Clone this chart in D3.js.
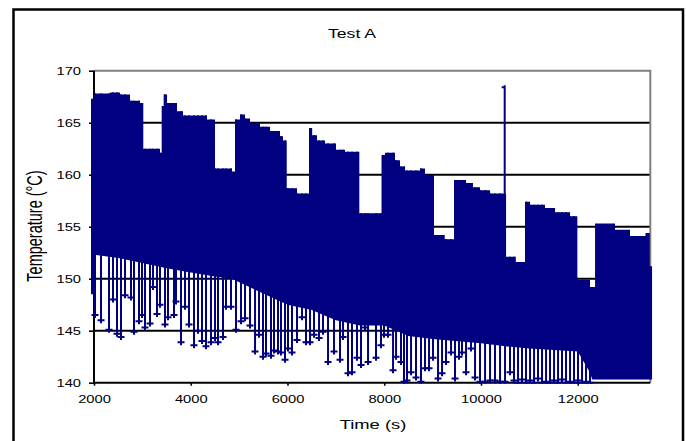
<!DOCTYPE html>
<html><head><meta charset="utf-8">
<script src="https://cdn.jsdelivr.net/npm/d3@7"></script>
<style>html,body{margin:0;padding:0;background:#fff;overflow:hidden}</style>
</head><body><svg id="c" width="686" height="441"></svg>
<script>
const chartTitle = "Test A";
const xTitle = "Time (s)";
const yTitle = "Temperature (°C)";
const xTicks = [2000, 4000, 6000, 8000, 10000, 12000];
const yTicks = [140, 145, 150, 155, 160, 165, 170];

// upper envelope of the oscillating trace (step starts, °C)
const stepTime = [1938,2021,2331,2538,2744,2951,3019,3364,3399,3440,3510,3716,3840,4336,4502,4853,4915,5018,5122,5225,5432,5639,5845,5907,5984,6197,6451,6510,6610,6776,7003,7189,7485,7944,8016,8223,8326,8430,8740,8843,9015,9250,9463,9691,9835,9980,10187,10518,10720,10911,11014,11324,11531,11841,11992,12254,12358,12771,13081,13400,13490,13540];
const stepTemp = [167.3,167.8,167.9,167.7,167.1,166.9,162.5,162.1,166.6,167.7,166.9,166.1,165.7,165.3,160.6,160.3,165.3,165.8,165.4,165.0,164.6,164.2,163.7,163.3,158.7,158.2,164.5,163.8,163.3,163.0,162.4,162.2,156.3,161.9,162.1,161.4,160.8,160.4,160.6,160.0,154.2,153.8,159.5,159.2,158.8,158.5,158.2,152.1,151.6,157.4,157.1,156.8,156.4,156.0,149.9,149.2,155.3,154.7,154.1,154.4,151.2,151.2];

// lower edge of the densely filled band
const floorTime = [1938,2000,2010,2500,3000,3500,4000,4500,4850,5300,6000,6500,7000,7500,8000,8500,9000,10000,10500,11000,12000,12250,12300,13540];
const floorTemp = [148.5,148.5,152.3,152.0,151.5,151.0,150.6,150.2,150.0,149.0,147.5,147.0,146.0,145.5,145.5,144.5,144.2,143.8,143.5,143.3,143.0,141.0,140.3,140.3];

// deep troughs below the band
const dipTime = [2021,2145,2310,2393,2476,2558,2641,2765,2827,2930,2992,3054,3158,3220,3302,3364,3468,3530,3654,3695,3799,3881,3964,4067,4150,4233,4315,4419,4502,4564,4667,4729,4832,
 4936,5039,5122,5225,5329,5411,5494,5556,5659,5721,5804,5866,5949,6011,6093,6197,6300,6383,6466,6548,6652,6734,6838,6962,7086,7148,7251,7334,7437,7520,7603,7665,
 7830,7933,7995,8078,8182,8244,8347,8409,8471,8554,8657,8760,8843,8926,9008,9112,9195,9277,9381,9463,9546,9608,9691,9794,9877,9980,10084,10187,10290,10394,10497,10600,
 10683,10766,10848,10931,11014,11097,11179,11262,11345,11427,11510,11593,11675,11758,11841,11923,12006,12089,12171,12254];
const dipTemp = [146.5,146.0,145.1,148.0,144.7,144.4,148.4,148.2,144.9,145.9,146.5,145.3,145.7,149.2,146.6,147.5,145.6,146.3,146.5,147.8,143.9,147.3,145.6,143.6,145.0,144.0,143.5,143.9,144.3,143.9,144.4,147.3,147.3,
 145.1,145.9,146.2,145.5,143.0,144.6,142.5,142.8,142.6,143.1,143.0,142.9,142.2,143.3,142.9,144.1,146.3,143.9,143.9,144.6,144.3,144.9,142.0,143.0,142.2,144.4,140.9,141.0,142.4,141.7,145.3,142.0,
 142.4,143.6,144.6,144.6,141.2,142.5,142.0,140.1,140.2,141.0,140.5,140.1,141.4,141.4,142.4,140.4,140.9,142.0,142.9,140.4,142.5,142.9,141.0,143.3,140.5,140.1,140.1,140.2,140.2,140.1,140.1,141.0,
 140.2,140.0,140.3,140.0,140.2,140.0,140.4,140.0,140.1,140.0,140.2,140.0,140.3,140.0,140.1,140.0,140.2,140.0,140.1,140.0];

const spikeTime = [10490];
const spikeTemp = [168.6];

const navy = "#000080";
const font = "'Liberation Sans', Arial, sans-serif";
const stretch = 1.47;

const svg = d3.select("#c");
const x = d3.scaleLinear().domain([2000, 13500]).range([94, 650.3]);
const y = d3.scaleLinear().domain([140, 170]).range([382.7, 70.7]);

// outer chart frame
svg.append("rect").attr("x", 13.5).attr("y", 9.5).attr("width", 669.5).attr("height", 440)
  .attr("fill", "none").attr("stroke", "#000").attr("stroke-width", 2.5);

// gridlines
svg.append("g").selectAll("line").data(yTicks.filter(d => d > 140 && d < 170)).join("line")
  .attr("x1", x(2000)).attr("x2", x(13500)).attr("y1", d => y(d)).attr("y2", d => y(d))
  .attr("stroke", "#000").attr("stroke-width", 2);
// top / right plot border
svg.append("path").attr("d", `M${x(2000)},${y(170)}H${x(13500)}V${y(140)}`)
  .attr("fill", "none").attr("stroke", "#808080").attr("stroke-width", 2);

// axes
const gy = svg.append("g").attr("transform", `translate(${x(2000)},0)`)
  .call(d3.axisLeft(y).tickValues(yTicks).tickSize(5).tickFormat(d3.format("d")));
const gx = svg.append("g").attr("transform", `translate(0,${y(140)})`)
  .call(d3.axisBottom(x).tickValues(xTicks).tickSize(3).tickFormat(d3.format("d")));
[gy, gx].forEach(g => {
  g.select(".domain").remove();
  g.selectAll(".tick line").attr("stroke", "#000").attr("stroke-width", 1.6);
  g.selectAll("text").attr("font-family", font).attr("font-size", 10).attr("fill", "#000")
    .attr("x", 0).attr("y", 0).attr("dy", null);
});
gy.selectAll("text").attr("text-anchor", "end").attr("transform", `translate(-13,3.6) scale(${stretch},1)`);
gx.selectAll("text").attr("text-anchor", "middle").attr("transform", `translate(0,20) scale(${stretch},1)`);
svg.append("line").attr("x1", x(2000)).attr("x2", x(2000)).attr("y1", y(170)).attr("y2", y(140) + 1)
  .attr("stroke", "#000").attr("stroke-width", 2);
svg.append("line").attr("x1", x(2000) - 1).attr("x2", x(13500)).attr("y1", y(140)).attr("y2", y(140))
  .attr("stroke", "#000").attr("stroke-width", 2);

// data band
const defs = svg.append("defs");
const floorPts = floorTime.map((t, i) => [t, floorTemp[i]]);
defs.append("clipPath").attr("id", "aboveFloor").append("path")
  .attr("d", d3.area().x(d => x(d[0])).y0(d => y(d[1])).y1(0)(floorPts));
defs.append("clipPath").attr("id", "plotY").append("rect")
  .attr("x", 0).attr("y", 0).attr("width", 686).attr("height", y(140) + 1);

const stepPts = stepTime.map((t, i) => [t, stepTemp[i]]);
svg.append("path").attr("clip-path", "url(#aboveFloor)")
  .attr("d", d3.area().x(d => x(d[0])).y0(y(140)).y1(d => y(d[1])).curve(d3.curveStepAfter)(stepPts))
  .attr("fill", navy);

const bis = d3.bisector(d => d).right;
const upperAt = t => stepTemp[Math.max(0, bis(stepTime, t) - 1)];

const dips = svg.append("g").attr("clip-path", "url(#plotY)")
  .attr("stroke", navy).attr("stroke-width", 2).attr("fill", "none");
dips.selectAll("path").data(dipTime.map((t, i) => [t, dipTemp[i]])).join("path")
  .attr("d", d => {
    const px = x(d[0]), py = y(d[1]);
    return `M${px},${y(upperAt(d[0]))}V${py + 3}M${px - 3.5},${py}H${px + 3.5}`;
  });

// isolated spike
svg.append("g").attr("stroke", navy).attr("stroke-width", 2).selectAll("path")
  .data(spikeTime.map((t, i) => [t, spikeTemp[i]])).join("path")
  .attr("d", d => `M${x(d[0])},${y(upperAt(d[0]))}V${y(d[1])}M${x(d[0]) - 3},${y(d[1]) + 2}H${x(d[0])}`);

// titles
svg.append("text").attr("transform", `translate(352,38) scale(${stretch},1)`)
  .attr("text-anchor", "middle").attr("font-family", font).attr("font-size", 12).text(chartTitle);
svg.append("text").attr("transform", `translate(373,429) scale(${stretch},1)`)
  .attr("text-anchor", "middle").attr("font-family", font).attr("font-size", 12.5).text(xTitle);
svg.append("text").attr("transform", `translate(42,226) scale(${stretch},1) rotate(-90)`)
  .attr("text-anchor", "middle").attr("font-family", font).attr("font-size", 14.5).text(yTitle);
</script></body></html>
